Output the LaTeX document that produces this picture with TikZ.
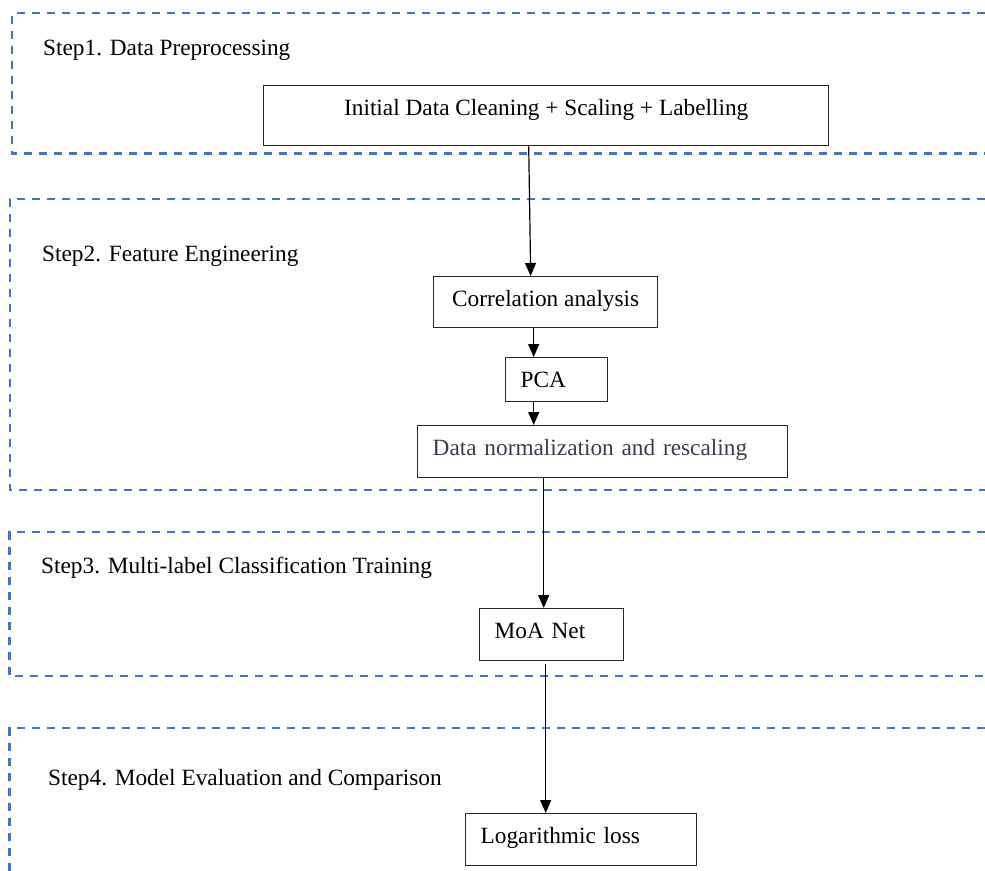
\documentclass[tikz,border=0pt]{standalone}
\usepackage{fontspec}
\setmainfont{Liberation Serif}
\usetikzlibrary{arrows.meta}
\definecolor{stepblue}{HTML}{4472C4}
\definecolor{slatetext}{RGB}{55,62,75}
\tikzset{
  stepframe/.style={draw=stepblue, line width=2.2pt, dash pattern=on 8pt off 7pt},
  steplabel/.style={anchor=base west, inner sep=0pt, font=\fontsize{23.3}{28}\selectfont},
  procbox/.style={draw=black!85, line width=1.4pt, anchor=north west, inner ysep=0pt,
    text height=30pt, font=\fontsize{23.3}{28}\selectfont},
  leftbox/.style={procbox, align=left, inner xsep=15pt},
  flow/.style={draw=black, line width=1.2pt, -{Triangle[length=13pt,width=11pt]}}
}
\begin{document}
\begin{tikzpicture}[x=1pt,y=-1pt]
\useasboundingbox (0,0) rectangle (985,870);
\clip (0,0) rectangle (985,870);
% step frames (open to the right)
\draw[stepframe] (985,13.3) -- (12.3,13.3) -- (12.3,153.5) -- (985,153.5);
\draw[stepframe] (985,199.3) -- (10,199.3) -- (10,490) -- (985,490);
\draw[stepframe] (985,532) -- (9.5,532) -- (9.5,676) -- (985,676);
\draw[stepframe] (985,728) -- (9.5,728) -- (9.5,875);
% step labels
\node[steplabel] (s1) at (43,55) {Step1. Data Preprocessing};
\node[steplabel] (s2) at (42,261) {Step2. Feature Engineering};
\node[steplabel] (s3) at (41,573) {Step3. Multi-label Classification Training};
\node[steplabel] (s4) at (48,785) {Step4. Model Evaluation and Comparison};
% process boxes
\node[procbox, minimum width=565pt, text depth=30pt] (b1) at (263,85) {Initial Data Cleaning + Scaling + Labelling};
\node[procbox, minimum width=224pt, text depth=21pt] (b2) at (433,276) {Correlation analysis};
\node[leftbox, text width=72pt, text depth=14pt] (b3) at (505,357) {PCA};
\node[leftbox, text width=340pt, text depth=22pt, text=slatetext] (b4) at (417,425) {Data normalization and rescaling};
\node[leftbox, text width=114pt, text depth=22pt] (b5) at (479,608) {MoA Net};
\node[leftbox, text width=201pt, text depth=22pt] (b6) at (465,813) {Logarithmic loss};
% connectors
\draw[flow] ([xshift=-17.5pt]b1.south) -- ([xshift=-15pt]b2.north);
\draw[flow] ([xshift=-12pt]b2.south) -- ([xshift=-23pt]b3.north);
\draw[flow] ([xshift=-23pt]b3.south) -- ([xshift=-69pt]b4.north);
\draw[flow] ([xshift=-59pt]b4.south) -- ([xshift=-8pt]b5.north);
\draw[flow] ([xshift=-6pt,yshift=-3pt]b5.south) -- ([xshift=-35.5pt]b6.north);
\end{tikzpicture}
\end{document}
